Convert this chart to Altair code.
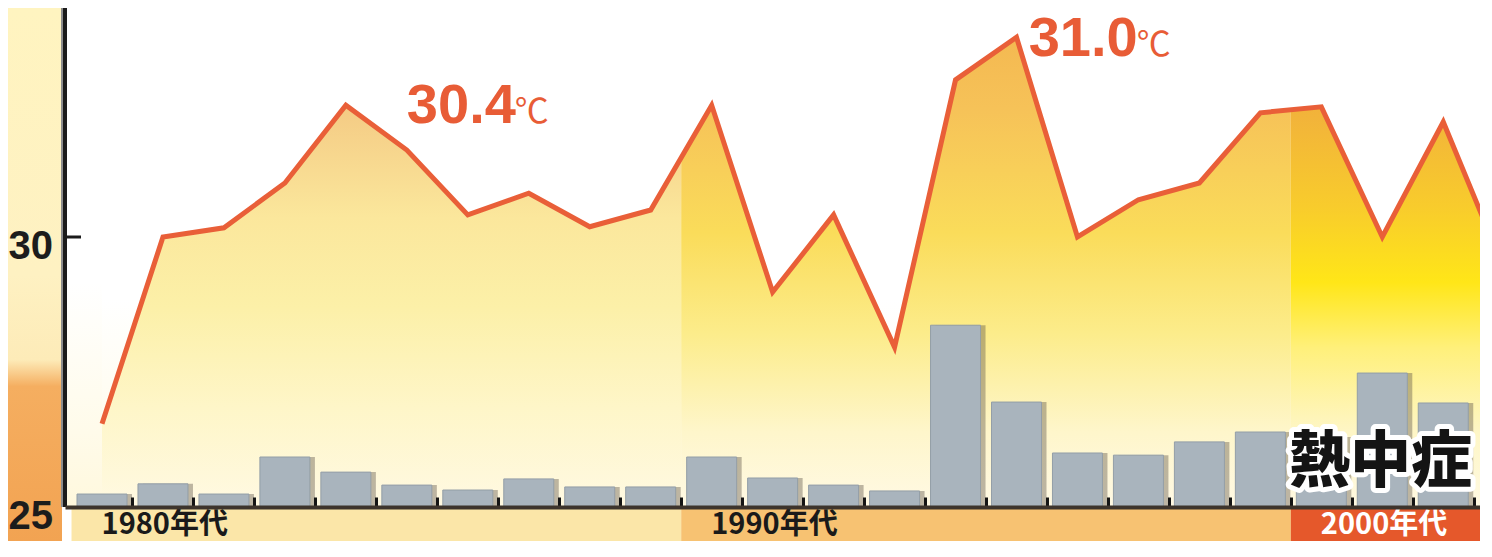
import altair as alt
import pandas as pd

# ---------------- data ----------------
years = list(range(1980, 2004))
max_temp = [26.54, 30.0, 30.17, 31.0, 32.44, 31.61, 30.41, 30.81, 30.19, 30.5,
            32.44, 28.98, 30.41, 27.96, 32.91, 33.7, 30.0, 30.69, 31.0, 32.3,
            32.41, 30.0, 32.13, 29.4]
bar_years = list(range(1980, 2003))
heatstroke = [42, 75, 42, 162, 113, 71, 55, 91, 65, 65,
              162, 94, 71, 52, 589, 340, 175, 168, 211, 243,
              227, 434, 337]
decade_labels = ["1980年代", "1990年代", "2000年代"]
decade_start = [1979.5, 1989.5, 1999.5]
decade_end = [1989.5, 1999.5, 2009.5]
decade_band_color = ["#FBE6A8", "#F7C272", "#E5582B"]
decade_text_color = ["#1a1a1a", "#1a1a1a", "#ffffff"]
y_tick_values = [25, 30]
y_tick_labels = ["25", "30"]
x_tick_values = [y + 0.5 for y in bar_years]
note_values = ["30.4", "31.0"]
note_years = [1985.0, 1995.2]
note_temps = [32.11, 33.36]
note_unit = "℃"
series_label = ["熱中症"]
series_label_year = [1999.47]
series_label_temp = [25.47]

# ---------------- layout ----------------
W, H = 1415, 533
BASE_PX = 499          # pixel row of the 25 degree baseline
PX_PER_DEG = 54.0
PX_PER_YEAR = 61.4
B_PER_PX = 3.24
T_DOMAIN = [25 - (H - BASE_PX) / PX_PER_DEG, 25 + BASE_PX / PX_PER_DEG]
X_DOMAIN = [1979.475, 1979.475 + W / PX_PER_YEAR]
B_DOMAIN = [-(H - BASE_PX) * B_PER_PX, BASE_PX * B_PER_PX]

xs = alt.Scale(domain=X_DOMAIN, nice=False, zero=False)
ts = alt.Scale(domain=T_DOMAIN, nice=False, zero=False)
bs = alt.Scale(domain=B_DOMAIN, nice=False, zero=False)

x_axis = alt.Axis(orient="top", offset=-BASE_PX, values=x_tick_values, labels=False,
                  ticks=True, tickSize=10, tickWidth=3, tickColor="#141414",
                  domain=True, domainColor="#3d342c", domainWidth=4, grid=False,
                  title=None, zindex=1)


def X(field):
    return alt.X(field, type="quantitative", scale=xs, axis=x_axis)


def vgrad(stops):
    return alt.Gradient(gradient="linear", x1=0, y1=0, x2=0, y2=1,
                        stops=[alt.GradientStop(offset=o, color=c) for o, c in stops])


line_df = pd.DataFrame({"year": years, "temp": max_temp})
bar_df = pd.DataFrame({"year": bar_years, "count": heatstroke})
dec_df = pd.DataFrame({
    "label": decade_labels, "start": decade_start, "end": decade_end,
    "fill_start": [max(s, years[0]) for s in decade_start],
    "band": decade_band_color, "tc": decade_text_color,
})
tick_df = pd.DataFrame({"v": y_tick_values, "t": y_tick_labels})
note_df = pd.DataFrame({"year": note_years, "temp": note_temps, "t": note_values})
lab_df = pd.DataFrame({"year": series_label_year, "temp": series_label_temp, "t": series_label})
one = pd.DataFrame({"k": [0]})

# ---------------- back group ----------------
deco = alt.Chart(one).mark_rect(
    color=vgrad([(0, "#FFF4C0"), (0.5, "#FEF1C2"), (0.66, "#FDEBB8"), (0.71, "#F5AE60"), (1, "#F2A352")])
).encode(x=alt.value(-57), x2=alt.value(-3), y=alt.value(0), y2=alt.value(H))

bg = alt.Chart(one).mark_rect(
    color=vgrad([(0, "#FFFFFF"), (0.55, "#FFFFFF"), (0.85, "#FFFBEA"), (1, "#FFF8DD")])
).encode(x=alt.value(0), x2=alt.value(W), y=alt.YDatum(25, scale=ts, axis=None), y2=alt.value(0))

fill_grads = [
    vgrad([(0, "#F0BE74"), (0.2, "#F4CB84"), (0.42, "#FBE79C"), (0.6, "#FCF0A8"), (0.8, "#FEF6C8"), (1, "#FFF9E2")]),
    vgrad([(0, "#F3B54E"), (0.2, "#F6C258"), (0.45, "#FADC5A"), (0.65, "#FCEC8A"), (0.85, "#FEF6CB"), (1, "#FFF9E4")]),
    vgrad([(0, "#EFA532"), (0.22, "#F2B43A"), (0.4, "#F8CC2C"), (0.55, "#FFE618"), (0.68, "#FFF07A"), (0.85, "#FEF6C6"), (1, "#FFF9E2")]),
]
fills = [
    alt.Chart(dec_df).transform_filter(alt.datum.label == lab).mark_rect(color=g, clip=True).encode(
        x=X("fill_start"), x2="end", y=alt.YDatum(25, scale=ts, axis=None), y2=alt.value(0))
    for lab, g in zip(decade_labels, fill_grads)
]

# white mask from the line up to the top of the plot
mask = alt.Chart(line_df).mark_area(
    color=vgrad([(0, "#FFFFFF"), (0.7, "#FFFFFF"), (1, "#FFFCEE")]), clip=True
).encode(x=X("year"), y=alt.Y("temp:Q", scale=ts, axis=None), y2=alt.datum(T_DOMAIN[1]))

back = alt.layer(deco, bg, *fills, mask)

# ---------------- bars ----------------
shadow = alt.Chart(bar_df).mark_bar(size=50, xOffset=5, color="#5a5146", opacity=0.4).encode(
    x=X("year"), y=alt.Y("count:Q", scale=bs, axis=None))
bars = alt.Chart(bar_df).mark_bar(size=50, color="#A9B4BD", stroke="#939ea7", strokeWidth=1).encode(
    x=X("year"), y=alt.Y("count:Q", scale=bs, axis=None))
bar_group = alt.layer(shadow, bars)

# ---------------- front group ----------------
bands = alt.Chart(dec_df).mark_rect(clip=True).encode(
    x=X("start"), x2="end", y=alt.YDatum(25, scale=ts, axis=None), y2=alt.value(H),
    color=alt.Color("band:N", scale=None, legend=None))
band_text = alt.Chart(dec_df).mark_text(
    align="left", baseline="alphabetic", dx=30, fontSize=29, fontWeight="bold",
    font="Noto Sans CJK JP").encode(
    x=X("start"), y=alt.value(H - 7), text="label:N",
    color=alt.Color("tc:N", scale=None, legend=None))

yaxis_shadow = alt.Chart(one).mark_rule(color="#8c8c8c", strokeWidth=2).encode(
    x=alt.value(-3), y=alt.YDatum(25, scale=ts, axis=None), y2=alt.value(0))
yaxis_line = alt.Chart(one).mark_rule(color="#1b1b1b", strokeWidth=4).encode(
    x=alt.value(0), y=alt.YDatum(25, scale=ts, axis=None), y2=alt.value(0))
ytick = alt.Chart(tick_df).transform_filter(alt.datum.v > 25).mark_rule(
    color="#1b1b1b", strokeWidth=3).encode(
    x=alt.value(0), x2=alt.value(16), y=alt.Y("v:Q", scale=ts, axis=None))
ylabels = alt.Chart(tick_df).mark_text(
    align="right", baseline="alphabetic", dx=-12, dy=22, fontSize=40, fontWeight="bold",
    font="Liberation Sans", color="#1c1c1c").encode(
    x=alt.value(0), y=alt.Y("v:Q", scale=ts, axis=None), text="t:N")

line = alt.Chart(line_df).mark_line(color="#E95F38", strokeWidth=5, clip=True, strokeJoin="miter").encode(
    x=X("year"), y=alt.Y("temp:Q", scale=ts, axis=None))

notes = alt.Chart(note_df).mark_text(
    align="left", baseline="alphabetic", fontSize=56, fontWeight="bold",
    font="Liberation Sans", color="#E85C36").encode(
    x=X("year"), y=alt.Y("temp:Q", scale=ts, axis=None), text="t:N")
notes_unit = alt.Chart(note_df).mark_text(
    align="left", baseline="alphabetic", dx=108, fontSize=34,
    font="Noto Sans CJK JP", color="#E85C36").encode(
    x=X("year"), y=alt.Y("temp:Q", scale=ts, axis=None), text=alt.value(note_unit))

lab_outline = alt.Chart(lab_df).mark_text(
    align="left", baseline="alphabetic", fontSize=61, fontWeight=900, font="Noto Sans CJK JP",
    color="#ffffff", stroke="#ffffff", strokeWidth=10, strokeJoin="round").encode(
    x=X("year"), y=alt.Y("temp:Q", scale=ts, axis=None), text="t:N")
lab_fill = alt.Chart(lab_df).mark_text(
    align="left", baseline="alphabetic", fontSize=61, fontWeight=900, font="Noto Sans CJK JP",
    color="#141414").encode(
    x=X("year"), y=alt.Y("temp:Q", scale=ts, axis=None), text="t:N")

front = alt.layer(bands, band_text, yaxis_shadow, yaxis_line, ytick, ylabels, line,
                  notes, notes_unit, lab_outline, lab_fill)

chart = alt.layer(back, bar_group, front).resolve_scale(y="independent").properties(
    width=W, height=H,
    autosize=alt.AutoSizeParams(type="none"),
    padding={"left": 57, "top": 0, "right": 0, "bottom": 0},
    background="#ffffff",
).configure_view(stroke=None)

chart.save("out.html", embed_options={"renderer": "svg", "actions": False})
